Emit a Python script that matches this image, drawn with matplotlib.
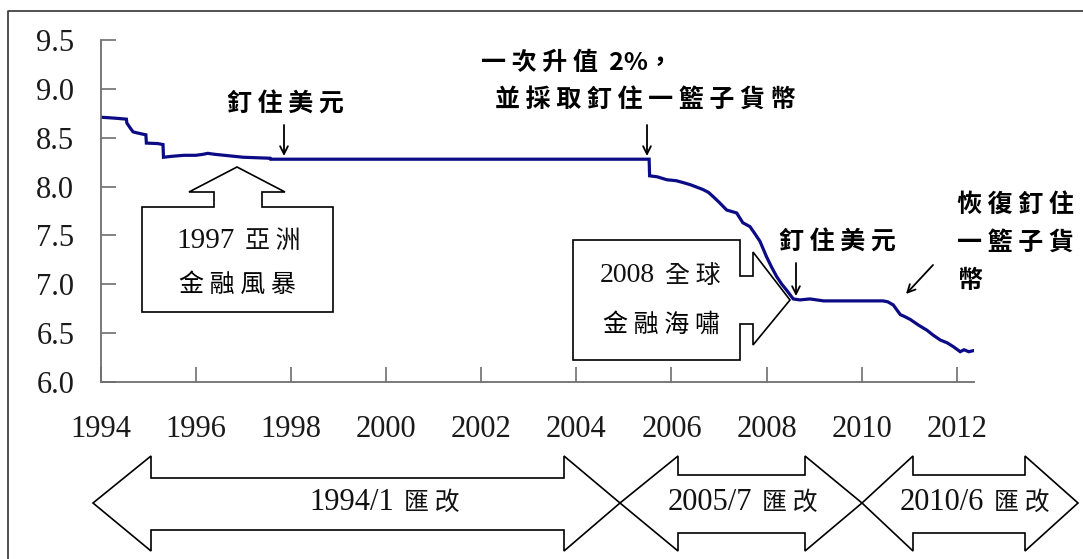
import matplotlib
matplotlib.use("Agg")
import matplotlib.pyplot as plt
from matplotlib.patches import Polygon
from matplotlib.lines import Line2D

# USD/CNY central rate
years = [1994.00, 1994.30, 1994.54, 1994.55, 1994.62, 1994.68, 1994.76, 1994.85, 1994.95, 1994.96,
         1995.20, 1995.31, 1995.32, 1995.50, 1995.75, 1996.00, 1996.15, 1996.25, 1996.40, 1996.60,
         1997.00, 1997.56, 1997.57, 2005.53, 2005.54, 2005.70, 2005.90, 2006.10, 2006.25, 2006.39,
         2006.50, 2006.66, 2006.78, 2006.87, 2007.00, 2007.16, 2007.30, 2007.37, 2007.50, 2007.65,
         2007.75, 2007.86, 2008.00, 2008.10, 2008.21, 2008.32, 2008.42, 2008.56, 2008.70, 2008.91,
         2009.20, 2009.47, 2009.90, 2010.45, 2010.55, 2010.62, 2010.66, 2010.72, 2010.81, 2010.90,
         2011.02, 2011.20, 2011.37, 2011.50, 2011.65, 2011.80, 2011.93, 2012.07, 2012.15, 2012.25,
         2012.34]
rates = [8.71, 8.70, 8.69, 8.65, 8.60, 8.56, 8.55, 8.54, 8.53, 8.445,
         8.44, 8.43, 8.30, 8.31, 8.32, 8.32, 8.33, 8.34, 8.33, 8.32,
         8.30, 8.29, 8.28, 8.28, 8.11, 8.10, 8.07, 8.06, 8.04, 8.02,
         8.00, 7.97, 7.94, 7.90, 7.84, 7.76, 7.74, 7.73, 7.63, 7.59,
         7.52, 7.44, 7.28, 7.18, 7.08, 7.00, 6.94, 6.85, 6.84, 6.85,
         6.83, 6.83, 6.83, 6.83, 6.82, 6.80, 6.79, 6.75, 6.69, 6.67,
         6.64, 6.58, 6.53, 6.48, 6.43, 6.40, 6.36, 6.31, 6.33, 6.31,
         6.32]

xticks = list(range(1994, 2013, 2))
yticks = [6.0, 6.5, 7.0, 7.5, 8.0, 8.5, 9.0, 9.5]

regime_dates = ["1994/1", "2005/7", "2010/6"]
regime_word = "匯 改"

W, H = 1083, 559
fig = plt.figure(figsize=(W / 100, H / 100), dpi=100)
fig.patch.set_facecolor("white")

serif = ["Liberation Serif", "Noto Sans CJK TC"]
cjk = ["Noto Sans CJK TC", "DejaVu Sans"]
axis_gray = "#6e6e6e"

ax = fig.add_axes([100.7 / W, 1 - 382 / H, (974 - 100.7) / W, (382 - 40) / H])
ax.plot(years, rates, color="#0b0b85", lw=2.3, solid_joinstyle="miter")
ax.set_xlim(1994, 2012.36)
ax.set_ylim(6.0, 9.5)
ax.set_xticks(xticks)
ax.set_yticks(yticks)
ax.set_yticklabels([f"{v:.1f}" for v in yticks])
for s in ["top", "right"]:
    ax.spines[s].set_visible(False)
for s in ["left", "bottom"]:
    ax.spines[s].set_color(axis_gray)
    ax.spines[s].set_linewidth(1.3)
ax.tick_params(axis="both", direction="in", length=11, width=1.2, color=axis_gray,
               labelsize=22, labelcolor="#1a1a1a")
ax.tick_params(axis="x", pad=24)
ax.tick_params(axis="y", pad=19)
for lab in ax.get_xticklabels() + ax.get_yticklabels():
    lab.set_family(serif)

# overlay in pixel coordinates for the callouts
ov = fig.add_axes([0, 0, 1, 1])
ov.set_xlim(0, W)
ov.set_ylim(H, 0)
ov.axis("off")

# outer frame (left and top edges visible)
ov.add_line(Line2D([8, 8, W + 5], [H + 5, 11, 11], color="#333333", lw=1.2))


def shape(pts):
    ov.add_patch(Polygon(pts, closed=True, facecolor="white", edgecolor="black", lw=1.2,
                         joinstyle="miter"))


def two_part(x_split, y, num, word, num_size=22, word_size=18):
    # serif number to the left of the split, spaced CJK word to the right
    ov.text(x_split - 4, y, num, family=serif, fontsize=num_size, ha="right", va="center",
            color="#111111")
    ov.text(x_split + 6, y, word, family=cjk, fontsize=word_size, ha="left", va="center",
            color="#111111")


# 1997 callout pointing up
shape([(142, 312), (142, 207), (214, 207), (214, 192), (189, 192), (237, 167), (285, 192),
       (262, 192), (262, 207), (333, 207), (333, 312)])
# 2008 callout pointing right
shape([(573, 240), (740, 240), (740, 276), (753, 276), (753, 252), (790, 300), (753, 345),
       (753, 324), (740, 324), (740, 360), (573, 360)])

# regime double arrows
spans = [(93, 151, 564, 620, 478, 530), (620, 678, 805, 862, 475, 533),
         (862, 913, 1025, 1078, 475, 533)]
splits = [398, 756, 988]
for (l, lb, rb, r, bt, bb), d, xs in zip(spans, regime_dates, splits):
    shape([(l, 503), (lb, 456), (lb, bt), (rb, bt), (rb, 456), (r, 503), (rb, 551), (rb, bb),
           (lb, bb), (lb, 551)])
    two_part(xs, 503, d, regime_word)

two_part(239, 241, "1997", "亞 洲", num_size=21)
ov.text(237, 285, "金 融 風 暴", family=cjk, fontsize=18, ha="center", va="center")
two_part(659, 276, "2008", "全 球", num_size=20)
ov.text(661, 325, "金 融 海 嘯", family=cjk, fontsize=18, ha="center", va="center")

bold = dict(family=cjk, fontsize=18, fontweight="bold", va="center", color="black")
ov.text(285, 105, "釘 住 美 元", ha="center", **bold)
ov.text(577, 63, "一 次 升 值  2%，", ha="center", **bold)
ov.text(645, 100, "並 採 取 釘 住 一 籃 子 貨 幣", ha="center", **bold)
ov.text(837, 243, "釘 住 美 元", ha="center", **bold)
ov.text(957, 205, "恢 復 釘 住", ha="left", **bold)
ov.text(957, 243, "一 籃 子 貨", ha="left", **bold)
ov.text(957, 281, "幣", ha="left", **bold)

arrow = dict(arrowstyle="->", color="black", lw=1.3, mutation_scale=14, shrinkA=0, shrinkB=0)
for (x0, y0), (x1, y1) in [((284, 125), (284, 156)), ((647, 125), (647, 156)),
                           ((796, 263), (796, 296)), ((933, 265), (906, 294))]:
    ov.annotate("", xy=(x1, y1), xytext=(x0, y0), arrowprops=arrow)

fig.savefig("out.png", dpi=100)
